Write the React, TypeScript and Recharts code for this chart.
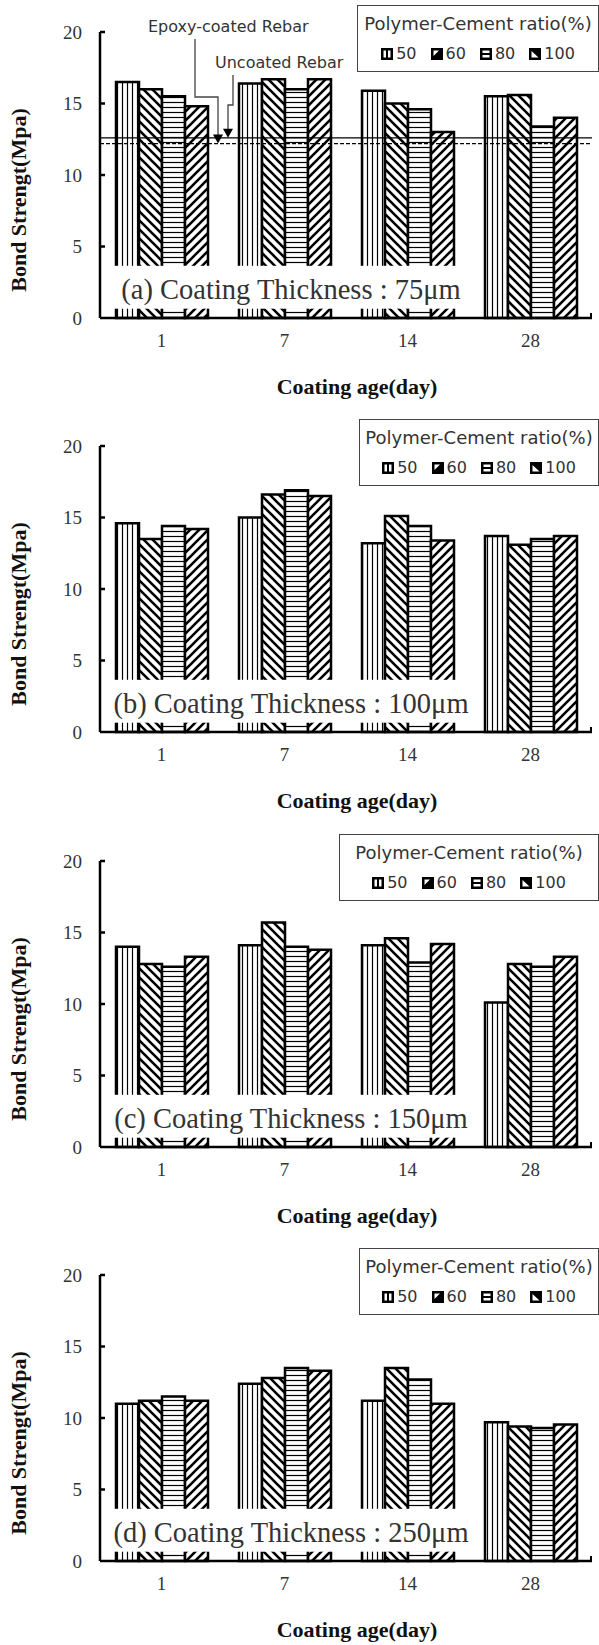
import React from "react";
import {
  BarChart,
  Bar,
  XAxis,
  YAxis,
  Legend,
  ReferenceLine,
  ReferenceArea,
} from "recharts";

// coating age (days) on the category axis, polymer-cement ratio (%) per series
const ages = ["1", "7", "14", "28"];
const ratios = ["50", "60", "80", "100"];
const yTicks = [0, 5, 10, 15, 20];

// bond strength (MPa) – coating thickness 75um
const t75_50 = [16.5, 16.4, 15.9, 15.5];
const t75_60 = [16.0, 16.7, 15.0, 15.6];
const t75_80 = [15.5, 16.0, 14.6, 13.4];
const t75_100 = [14.8, 16.7, 13.0, 14.0];
// 100um
const t100_50 = [14.6, 15.0, 13.2, 13.7];
const t100_60 = [13.5, 16.6, 15.1, 13.1];
const t100_80 = [14.4, 16.9, 14.4, 13.5];
const t100_100 = [14.2, 16.5, 13.4, 13.7];
// 150um
const t150_50 = [14.0, 14.1, 14.1, 10.1];
const t150_60 = [12.8, 15.7, 14.6, 12.8];
const t150_80 = [12.6, 14.0, 12.9, 12.6];
const t150_100 = [13.3, 13.8, 14.2, 13.3];
// 250um
const t250_50 = [11.0, 12.4, 11.2, 9.7];
const t250_60 = [11.2, 12.8, 13.5, 9.4];
const t250_80 = [11.5, 13.5, 12.7, 9.3];
const t250_100 = [11.2, 13.3, 11.0, 9.55];

// reference rebars (MPa)
const uncoatedRebar = 12.6;
const epoxyRebar = 12.2;

const W = 599;
const H = 402;
const SERIF = '"Liberation Serif", "Times New Roman", serif';
const SANS = '"DejaVu Sans", Verdana, sans-serif';

function buildRows(cols: number[][]) {
  return ages.map((age, i) => {
    const row: Record<string, any> = { age };
    ratios.forEach((r, j) => {
      row["r" + r] = cols[j][i];
    });
    return row;
  });
}

const panels = [
  {
    id: "a",
    top: 0,
    legendLeft: 357,
    caption: "(a) Coating Thickness : 75\u03bcm",
    rows: buildRows([t75_50, t75_60, t75_80, t75_100]),
    rebar: true,
  },
  {
    id: "b",
    top: 414,
    legendLeft: 359,
    caption: "(b) Coating Thickness : 100\u03bcm",
    rows: buildRows([t100_50, t100_60, t100_80, t100_100]),
    rebar: false,
  },
  {
    id: "c",
    top: 829,
    legendLeft: 339,
    caption: "(c) Coating Thickness : 150\u03bcm",
    rows: buildRows([t150_50, t150_60, t150_80, t150_100]),
    rebar: false,
  },
  {
    id: "d",
    top: 1243,
    legendLeft: 359,
    caption: "(d) Coating Thickness : 250\u03bcm",
    rows: buildRows([t250_50, t250_60, t250_80, t250_100]),
    rebar: false,
  },
];

function hatchDefs(id: string) {
  return (
    <defs>
      <pattern id={`${id}-50`} width={5} height={10} patternUnits="userSpaceOnUse">
        <rect width={5} height={10} fill="#fff" />
        <line x1={2.5} y1={0} x2={2.5} y2={10} stroke="#000" strokeWidth={1.2} />
      </pattern>
      <pattern id={`${id}-60`} width={9} height={9} patternUnits="userSpaceOnUse">
        <rect width={9} height={9} fill="#fff" />
        <path d="M0,0 L9,9 M-2,7 L2,11 M7,-2 L11,2" stroke="#000" strokeWidth={2.6} />
      </pattern>
      <pattern id={`${id}-80`} width={10} height={5} patternUnits="userSpaceOnUse">
        <rect width={10} height={5} fill="#fff" />
        <line x1={0} y1={2.5} x2={10} y2={2.5} stroke="#000" strokeWidth={1.2} />
      </pattern>
      <pattern id={`${id}-100`} width={9} height={9} patternUnits="userSpaceOnUse">
        <rect width={9} height={9} fill="#fff" />
        <path d="M0,9 L9,0 M-2,2 L2,-2 M7,11 L11,7" stroke="#000" strokeWidth={2.6} />
      </pattern>
    </defs>
  );
}

function LegendIcon({ ratio }: { ratio: string }) {
  return (
    <svg width={12} height={12} style={{ display: "block" }}>
      <rect x={0} y={0} width={12} height={12} fill="#000" />
      {ratio === "50" && (
        <>
          <rect x={2.5} y={2.5} width={2.5} height={7} fill="#fff" />
          <rect x={7} y={2.5} width={2.5} height={7} fill="#fff" />
        </>
      )}
      {ratio === "60" && <polygon points="2.5,2.5 8,2.5 2.5,8" fill="#fff" />}
      {ratio === "80" && (
        <>
          <rect x={2.5} y={2.5} width={7} height={2.5} fill="#fff" />
          <rect x={2.5} y={7} width={7} height={2.5} fill="#fff" />
        </>
      )}
      {ratio === "100" && <polygon points="2.5,9.5 9.5,9.5 2.5,3" fill="#fff" />}
    </svg>
  );
}

// legend keys follow the series order, not recharts' sorted payload
function LegendBox() {
  return (
    <div
      style={{
        boxSizing: "border-box",
        width: "100%",
        height: 67,
        border: "1.5px solid #444",
        background: "#fff",
        fontFamily: SANS,
        color: "#333",
      }}
    >
      <div style={{ textAlign: "center", fontSize: 18, lineHeight: "22px", marginTop: 7 }}>
        Polymer-Cement ratio(%)
      </div>
      <div
        style={{
          display: "flex",
          justifyContent: "center",
          gap: 14,
          marginTop: 9,
          fontSize: 16,
          lineHeight: "20px",
        }}
      >
        {ratios.map((r) => (
          <span key={r} style={{ display: "flex", alignItems: "center", gap: 3 }}>
            <LegendIcon ratio={r} />
            {r}
          </span>
        ))}
      </div>
    </div>
  );
}

const YTick = (props: any) => {
  const { x, y, payload } = props;
  return (
    <g>
      {payload.value > 0 && (
        <line x1={x + 18} x2={x + 23} y1={y} y2={y} stroke="#000" strokeWidth={2.5} />
      )}
      <text
        x={x}
        y={y}
        textAnchor="end"
        dominantBaseline="central"
        fontFamily={SERIF}
        fontSize={19}
        fill="#333"
      >
        {payload.value}
      </text>
    </g>
  );
};

const XTick = (props: any) => {
  const { x, y, payload } = props;
  return (
    <text
      x={x}
      y={y + 22}
      textAnchor="middle"
      dominantBaseline="central"
      fontFamily={SERIF}
      fontSize={19}
      fill="#333"
    >
      {payload.value}
    </text>
  );
};

// both axis titles hang off the x-axis box (plot is 286px tall above it)
const axisTitles = (lp: any) => {
  const vb = lp.viewBox;
  const end = vb.x + vb.width;
  const cx = 18;
  const cy = vb.y - 118;
  return (
    <g>
      <line x1={end - 1} x2={end - 1} y1={vb.y + 1} y2={vb.y - 5} stroke="#000" strokeWidth={2} />
      <text
        x={vb.x + vb.width / 2 + 11}
        y={vb.y + 68}
        textAnchor="middle"
        dominantBaseline="central"
        style={{ fontFamily: SERIF, fontWeight: 700, fontSize: 22 }}
        fill="#111"
      >
        Coating age(day)
      </text>
      <text
        x={cx}
        y={cy}
        transform={`rotate(-90 ${cx} ${cy})`}
        textAnchor="middle"
        dominantBaseline="central"
        style={{ fontFamily: SERIF, fontWeight: 700, fontSize: 22 }}
        fill="#111"
      >
        Bond Strengt(Mpa)
      </text>
    </g>
  );
};

// arrow from a text note down onto a reference line
const rebarNote =
  (text: string, textX: number, textY: number, stemX: number, bendY: number, tipX: number) =>
  (lp: any) => {
    const { x, y } = lp.viewBox;
    const sx = x + stemX;
    const tx = x + tipX;
    return (
      <g>
        <text
          x={x + textX}
          y={textY}
          dominantBaseline="central"
          fontFamily={SANS}
          fontSize={16}
          fill="#333"
        >
          {text}
        </text>
        <polyline
          points={`${sx},${textY + 13} ${sx},${bendY} ${tx},${bendY} ${tx},${y - 8}`}
          fill="none"
          stroke="#444"
          strokeWidth={1.3}
        />
        <polygon points={`${tx - 5},${y - 9} ${tx + 5},${y - 9} ${tx},${y}`} fill="#000" />
      </g>
    );
  };

function Panel({ p }: { p: (typeof panels)[number] }) {
  return (
    <div style={{ position: "absolute", left: 0, top: p.top }}>
      <BarChart
        width={W}
        height={H}
        data={p.rows}
        margin={{ top: 32, right: 7, left: 0, bottom: 44 }}
        barCategoryGap={16}
        barGap={0}
      >
        {hatchDefs(p.id)}
        <XAxis
          dataKey="age"
          height={40}
          axisLine={{ stroke: "#000", strokeWidth: 2.5 }}
          tickLine={false}
          tickSize={0}
          tickMargin={0}
          tick={<XTick />}
          label={axisTitles}
        />
        <YAxis
          width={100}
          domain={[0, 20]}
          ticks={yTicks}
          interval={0}
          axisLine={{ stroke: "#000", strokeWidth: 2.5 }}
          tickLine={false}
          tickSize={0}
          tickMargin={18}
          tick={<YTick />}
        />
        {ratios.map((r) => (
          <Bar
            key={r}
            dataKey={"r" + r}
            name={r}
            fill={`url(#${p.id}-${r})`}
            stroke="#000"
            strokeWidth={2.5}
            isAnimationActive={false}
          />
        ))}
        <ReferenceArea
          y1={0.65}
          y2={3.65}
          ifOverflow="visible"
          zIndex={450}
          shape={(sp: any) => (
            <g>
              <rect x={sp.x + 3} y={sp.y} width={357} height={sp.height} fill="#fff" />
              <text
                x={sp.x + 191}
                y={sp.y + sp.height / 2 + 2}
                textAnchor="middle"
                dominantBaseline="central"
                fontFamily={SERIF}
                fontSize={28.5}
                fill="#333"
              >
                {p.caption}
              </text>
            </g>
          )}
        />
        {p.rebar && (
          <ReferenceLine
            y={uncoatedRebar}
            stroke="#000"
            strokeWidth={1.3}
            zIndex={460}
            label={rebarNote("Uncoated Rebar", 115, 62, 133, 105, 128)}
          />
        )}
        {p.rebar && (
          <ReferenceLine
            y={epoxyRebar}
            stroke="#000"
            strokeWidth={1.3}
            strokeDasharray="4 2"
            zIndex={460}
            label={rebarNote("Epoxy-coated Rebar", 48, 26, 95, 97, 118)}
          />
        )}
        <Legend
          layout="horizontal"
          verticalAlign="middle"
          align="center"
          content={<LegendBox />}
          wrapperStyle={{ top: 5, left: p.legendLeft, width: W - p.legendLeft, height: 67 }}
        />
      </BarChart>
    </div>
  );
}

export default function App() {
  return (
    <div
      style={{
        position: "absolute",
        left: 0,
        top: 0,
        width: W,
        height: 1645,
        background: "#fff",
        overflow: "hidden",
      }}
    >
      {panels.map((p) => (
        <Panel key={p.id} p={p} />
      ))}
    </div>
  );
}
